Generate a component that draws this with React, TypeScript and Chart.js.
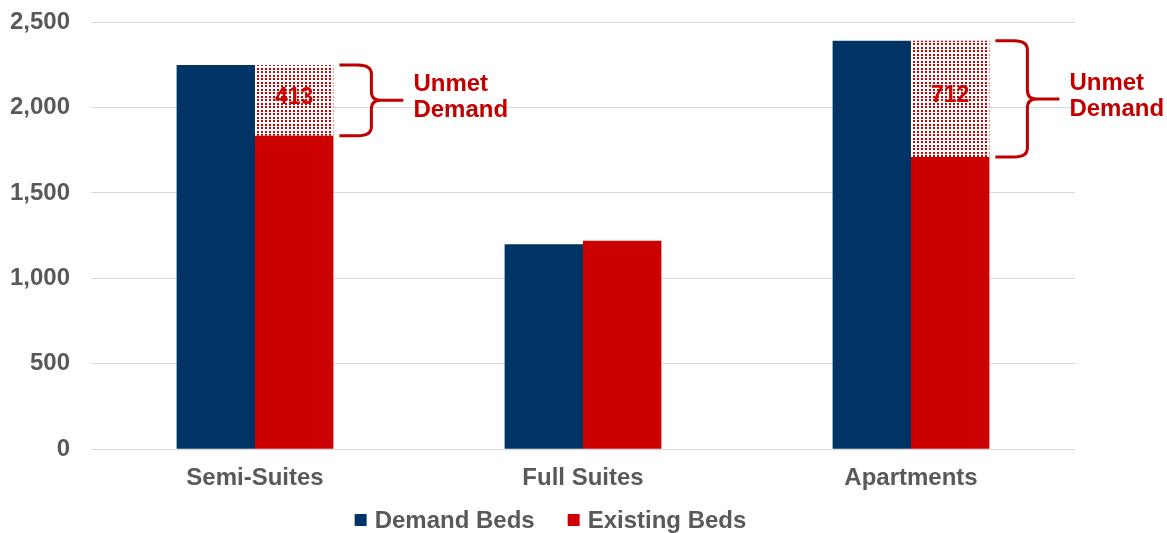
import React, { useEffect, useRef } from "react";
import { Chart, registerables } from "chart.js";
Chart.register(...registerables);

const categories = ["Semi-Suites", "Full Suites", "Apartments"];
const demandBeds = [2248, 1200, 2390];
const existingBeds = [1835, 1220, 1710];
const unmetLabels = ["413", "", "712"];
const seriesNames = ["Demand Beds", "Existing Beds", "Unmet Demand"];
const yMax = 2500;
const yStep = 500;

const NAVY = "#003466";
const RED = "#CC0000";
const TEXT_RED = "#C00000";
const GRAY = "#595959";
const FONT = "Liberation Sans, Arial, sans-serif";

function makePattern(): CanvasPattern | string {
  const c = document.createElement("canvas");
  c.width = 4;
  c.height = 7;
  const g = c.getContext("2d");
  if (!g) return RED;
  g.fillStyle = "#ffffff";
  g.fillRect(0, 0, 4, 7);
  g.fillStyle = RED;
  g.fillRect(1, 1, 2, 2);
  g.fillRect(1, 5, 2, 2);
  const p = g.createPattern(c, "repeat");
  return p || RED;
}

const bracePlugin = {
  id: "braces",
  afterDatasetsDraw(chart: any) {
    const ctx = chart.ctx;
    const meta = chart.getDatasetMeta(2);
    ctx.save();
    unmetLabels.forEach((lab, i) => {
      if (!lab) return;
      const bar: any = meta.data[i];
      if (!bar) return;
      const props = bar.getProps(["x", "y", "base", "width"], true);
      const top = props.y;
      const bot = props.base;
      const right = props.x + props.width / 2;
      const mid = (top + bot) / 2;
      ctx.fillStyle = RED;
      ctx.font = `bold 23px ${FONT}`;
      ctx.textAlign = "center";
      ctx.textBaseline = "middle";
      ctx.fillText(lab, props.x, mid - 3);
      const x0 = right + 6;
      const xv = right + 38;
      const xt = right + 70;
      const r = 9;
      ctx.strokeStyle = TEXT_RED;
      ctx.lineWidth = 3;
      ctx.lineJoin = "round";
      ctx.beginPath();
      ctx.moveTo(x0, top);
      ctx.lineTo(xv - r * 1.5, top);
      ctx.quadraticCurveTo(xv, top, xv, top + r);
      ctx.lineTo(xv, mid - r);
      ctx.quadraticCurveTo(xv, mid, xv + r, mid);
      ctx.lineTo(xt, mid);
      ctx.moveTo(xv + r, mid);
      ctx.quadraticCurveTo(xv, mid, xv, mid + r);
      ctx.lineTo(xv, bot - r);
      ctx.quadraticCurveTo(xv, bot, xv - r * 1.5, bot);
      ctx.lineTo(x0, bot);
      ctx.stroke();
      ctx.fillStyle = TEXT_RED;
      ctx.font = `bold 24px ${FONT}`;
      ctx.textAlign = "left";
      ctx.fillText("Unmet", xt + 10, mid - 16);
      ctx.fillText("Demand", xt + 10, mid + 10);
    });
    ctx.restore();
  },
};

const legendPlugin = {
  id: "customLegend",
  afterDraw(chart: any) {
    const ctx = chart.ctx;
    const items = chart.data.datasets.slice(0, 2);
    ctx.save();
    ctx.font = `bold 24px ${FONT}`;
    ctx.textBaseline = "middle";
    ctx.textAlign = "left";
    const box = 12;
    const gap = 8;
    const spacing = 33;
    const widths = items.map((d: any) => box + gap + ctx.measureText(d.label).width);
    const total = widths.reduce((a: number, b: number) => a + b, 0) + spacing * (items.length - 1);
    let x = chart.width / 2 - 33 - total / 2;
    const y = chart.height - 13;
    items.forEach((d: any, i: number) => {
      ctx.fillStyle = d.backgroundColor;
      ctx.fillRect(x, y - box / 2, box, box);
      ctx.fillStyle = GRAY;
      ctx.fillText(d.label, x + box + gap, y + 1);
      x += widths[i] + spacing;
    });
    ctx.restore();
  },
};

export default function App() {
  const ref = useRef<HTMLCanvasElement | null>(null);
  useEffect(() => {
    if (!ref.current) return;
    const unmet = demandBeds.map((d, i) => (unmetLabels[i] ? d - existingBeds[i] : null));
    const chart = new Chart(ref.current, {
      type: "bar",
      data: {
        labels: categories,
        datasets: [
          { label: seriesNames[0], data: demandBeds, backgroundColor: NAVY, stack: "d" },
          { label: seriesNames[1], data: existingBeds, backgroundColor: RED, stack: "e" },
          { label: seriesNames[2], data: unmet as any, backgroundColor: makePattern() as any, stack: "e" },
        ],
      },
      options: {
        animation: false,
        responsive: false,
        maintainAspectRatio: false,
        layout: { padding: { top: 22, right: 92, left: 0, bottom: 25 } },
        datasets: { bar: { categoryPercentage: 0.478, barPercentage: 1, borderWidth: 0 } } as any,
        scales: {
          x: {
            stacked: true,
            grid: { display: false, drawTicks: false },
            border: { display: false },
            ticks: { color: GRAY, font: { family: FONT, size: 24, weight: "bold" }, padding: 15 },
          },
          y: {
            stacked: true,
            min: 0,
            max: yMax,
            afterFit: (s: any) => {
              s.width = 91;
              s.paddingTop = 0;
              s.paddingBottom = 0;
            },
            grid: { color: "#D9D9D9", lineWidth: 1, drawTicks: false },
            border: { display: false },
            ticks: {
              stepSize: yStep,
              color: GRAY,
              padding: 21,
              font: { family: FONT, size: 24, weight: "bold" },
              callback: (v: any) => Number(v).toLocaleString("en-US"),
            },
          },
        },
        plugins: {
          tooltip: { enabled: false },
          legend: { display: false },
        },
      },
      plugins: [bracePlugin, legendPlugin],
    });
    return () => chart.destroy();
  }, []);
  return (
    <div style={{ position: "fixed", left: 0, top: 0, width: 1167, height: 533, background: "#fff" }}>
      <canvas ref={ref} width={1167} height={533} style={{ width: 1167, height: 533 }} />
    </div>
  );
}
